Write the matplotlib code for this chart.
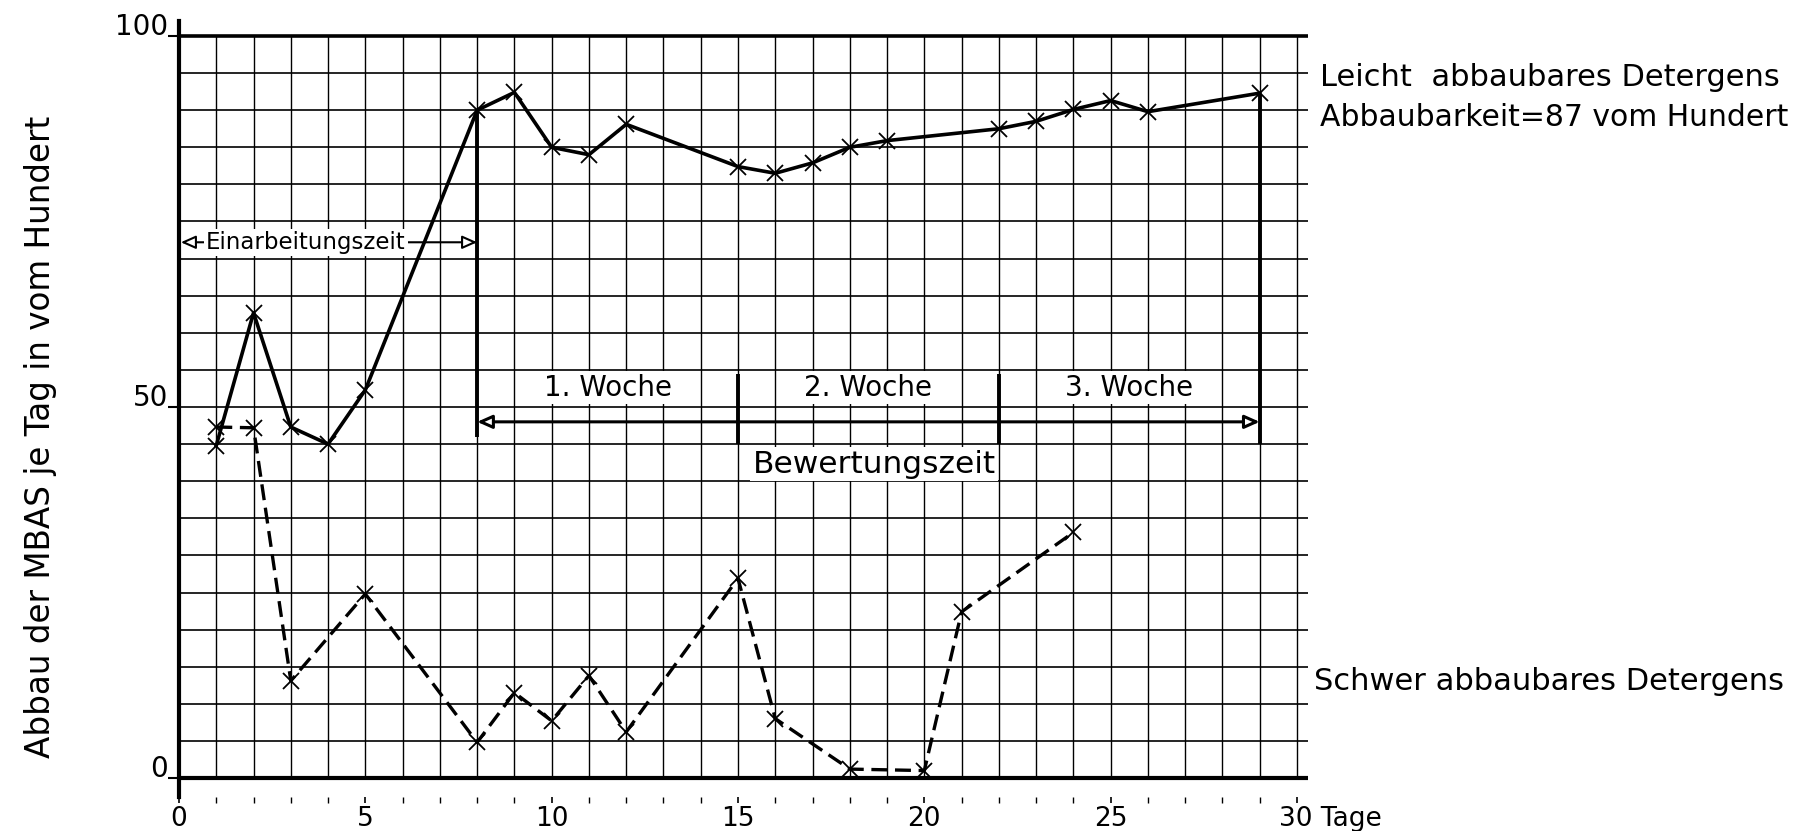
import matplotlib
matplotlib.use("Agg")
import matplotlib.pyplot as plt
import matplotlib.transforms as mtransforms
import numpy as np

plt.rcParams['font.family'] = ['DejaVu Sans']
plt.rcParams['lines.scale_dashes'] = False

# --- data -------------------------------------------------------------
days_easy = [1, 2, 3, 4, 5, 8, 9, 10, 11, 12, 15, 16, 17, 18, 19, 22, 23, 24, 25, 26, 29]
vals_easy = [44.8, 62.7, 47.3, 45.0, 52.3, 90.0, 92.4, 85.0, 84.0, 88.1, 82.4, 81.5,
             82.9, 85.0, 85.9, 87.5, 88.5, 90.1, 91.3, 89.8, 92.3]

days_hard = [1, 2, 3, 5, 8, 9, 10, 11, 12, 15, 16, 18, 20, 21, 24]
vals_hard = [47.3, 47.2, 13.1, 24.8, 4.8, 11.5, 7.7, 13.8, 6.2, 26.9, 8.0, 1.2, 1.0, 22.4, 33.1]

x_ticks = [0, 5, 10, 15, 20, 25, 30]
x_ticklabels = ['0', '5', '10', '15', '20', '25', '30 Tage']
y_ticks = [0, 50, 100]
y_ticklabels = ['0', '50', '100']

label_easy = ['Leicht  abbaubares Detergens', 'Abbaubarkeit=87 vom Hundert']
label_hard = 'Schwer abbaubares Detergens'
ylabel = 'Abbau der MBAS je Tag in vom Hundert'
weeks = ['1. Woche', '2. Woche', '3. Woche']
week_centers = [11.5, 18.5, 25.5]

# --- figure -----------------------------------------------------------
W, H = 1816, 831
fig = plt.figure(figsize=(W / 100, H / 100), dpi=100)
x0_px, x30_px = 179, 1297
xmax = 30.3
ymin, ymax = -2.5, 102
y0_px, y100_px = 778, 36
ppu_y = (y0_px - y100_px) / 100.0
ppu_x = (x30_px - x0_px) / 30.0
left = x0_px / W
width = xmax * ppu_x / W
bottom = (H - (y0_px + (0 - ymin) * ppu_y)) / H
height = (ymax - ymin) * ppu_y / H
ax = fig.add_axes([left, bottom, width, height])
ax.set_xlim(0, xmax)
ax.set_ylim(ymin, ymax)

# grid
for xv in range(0, 31):
    ax.axvline(xv, ymin=(0 - ymin) / (ymax - ymin), ymax=(100 - ymin) / (ymax - ymin),
               color='black', lw=1.0, zorder=1)
for yv in range(5, 100, 5):
    ax.axhline(yv, color='black', lw=1.2, zorder=1)
ax.axhline(0, color='black', lw=3.0, zorder=2)
ax.axhline(100, color='black', lw=2.6, zorder=2)

for sp in ['top', 'right', 'bottom']:
    ax.spines[sp].set_visible(False)
ax.spines['left'].set_linewidth(3.0)

# ticks
ax.set_xticks(x_ticks)
ax.set_xticklabels(x_ticklabels)
ax.set_xticks(range(0, 31), minor=True)
ax.tick_params(axis='x', which='major', length=4, width=1.2, labelsize=19, pad=3)
ax.tick_params(axis='x', which='minor', length=4, width=1.0)
ax.set_yticks(y_ticks)
ax.set_yticklabels(y_ticklabels)
ax.tick_params(axis='y', length=8, width=1.5, labelsize=20, pad=0)
lab = ax.get_xticklabels()[-1]
lab.set_horizontalalignment('left')
lab.set_transform(lab.get_transform() + mtransforms.ScaledTranslation(-0.18, 0, fig.dpi_scale_trans))
for yl in ax.get_yticklabels():
    yl.set_transform(yl.get_transform() + mtransforms.ScaledTranslation(0, 0.12, fig.dpi_scale_trans))

# data
ax.plot(days_easy, vals_easy, color='black', lw=2.6, marker='x', markersize=12,
        markeredgewidth=1.3, zorder=5)
ax.plot(days_hard, vals_hard, color='black', lw=2.4, linestyle=(0, (11.5, 5.5)), marker='x',
        markersize=12, markeredgewidth=1.3, zorder=5)

# thick period dividers
ax.vlines(8, 46, 90, color='black', lw=2.8, zorder=3)
ax.vlines([15, 22], 45, 54.5, color='black', lw=2.8, zorder=3)
ax.vlines(29, 45, 92, color='black', lw=2.8, zorder=3)

# Einarbeitungszeit arrow
ax.annotate('', xy=(0.05, 72.2), xytext=(8, 72.2),
            arrowprops=dict(arrowstyle='<|-|>,head_length=0.9,head_width=0.4', lw=1.5,
                            fc='white', ec='black', shrinkA=0, shrinkB=0), zorder=6)
ax.text(3.4, 72.2, 'Einarbeitungszeit', fontsize=16.5, ha='center', va='center',
        bbox=dict(fc='white', ec='none', pad=1.5), zorder=7)

# Bewertungszeit arrow
ax.annotate('', xy=(8, 48.0), xytext=(29, 48.0),
            arrowprops=dict(arrowstyle='<|-|>,head_length=0.9,head_width=0.4', lw=2.2,
                            fc='white', ec='black', shrinkA=0, shrinkB=0), zorder=6)
for wc, wt in zip(week_centers, weeks):
    ax.text(wc, 52.6, wt, fontsize=20, ha='center', va='center',
            bbox=dict(fc='white', ec='none', pad=2), zorder=7)
ax.text(18.65, 42.3, 'Bewertungszeit', fontsize=22.5, ha='center', va='center',
        bbox=dict(fc='white', ec='none', pad=2), zorder=7)

# right side labels
fig.text(1320 / W, 1 - 78 / H, label_easy[0], fontsize=22, ha='left', va='center')
fig.text(1320 / W, 1 - 118 / H, label_easy[1], fontsize=21.5, ha='left', va='center')
fig.text(1314 / W, 1 - 682 / H, label_hard, fontsize=22, ha='left', va='center')

# y label
fig.text(41 / W, 1 - 437 / H, ylabel, fontsize=23.5, rotation=90, ha='center', va='center')

fig.savefig('out.png', dpi=100, facecolor='white')
